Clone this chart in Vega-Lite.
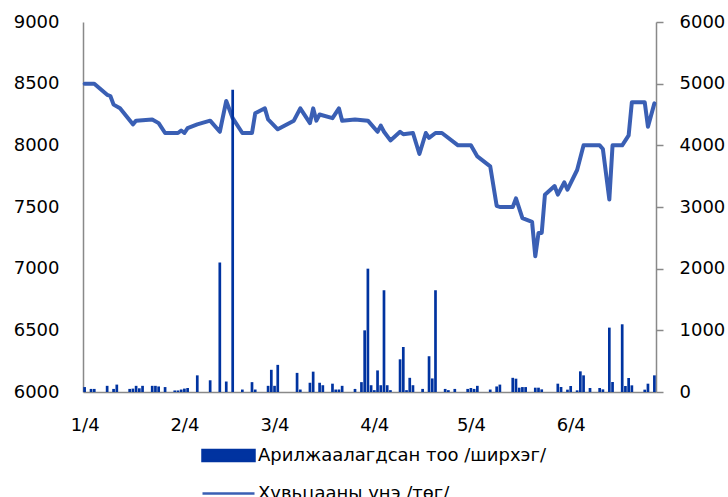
{
  "$schema": "https://vega.github.io/schema/vega-lite/v6.json",
  "width": 573,
  "height": 370,
  "autosize": "none",
  "padding": {"left": 83, "top": 22, "right": 72, "bottom": 105},
  "config": {
    "view": {"stroke": null},
    "font": "DejaVu Sans",
    "axis": {"grid": false, "domainColor": "#898989", "domainWidth": 1.5, "labelFont": "DejaVu Sans", "labelFontSize": 18, "labelColor": "#000000", "title": null}
  },
  "datasets": {
    "price": [
      {"d": "2021-01-04", "p": 8500}, {"d": "2021-01-07", "p": 8500}, {"d": "2021-01-11", "p": 8410}, {"d": "2021-01-12", "p": 8400},
      {"d": "2021-01-13", "p": 8330}, {"d": "2021-01-15", "p": 8300}, {"d": "2021-01-19", "p": 8170}, {"d": "2021-01-20", "p": 8200},
      {"d": "2021-01-25", "p": 8210}, {"d": "2021-01-27", "p": 8180}, {"d": "2021-01-29", "p": 8100}, {"d": "2021-02-02", "p": 8100},
      {"d": "2021-02-03", "p": 8120}, {"d": "2021-02-04", "p": 8100}, {"d": "2021-02-05", "p": 8140}, {"d": "2021-02-08", "p": 8170},
      {"d": "2021-02-12", "p": 8200}, {"d": "2021-02-15", "p": 8110}, {"d": "2021-02-17", "p": 8360}, {"d": "2021-02-19", "p": 8220},
      {"d": "2021-02-22", "p": 8100}, {"d": "2021-02-25", "p": 8100}, {"d": "2021-02-26", "p": 8260}, {"d": "2021-03-01", "p": 8300},
      {"d": "2021-03-02", "p": 8210}, {"d": "2021-03-05", "p": 8130}, {"d": "2021-03-10", "p": 8200}, {"d": "2021-03-12", "p": 8300},
      {"d": "2021-03-15", "p": 8180}, {"d": "2021-03-16", "p": 8300}, {"d": "2021-03-17", "p": 8200}, {"d": "2021-03-18", "p": 8250},
      {"d": "2021-03-22", "p": 8220}, {"d": "2021-03-24", "p": 8300}, {"d": "2021-03-25", "p": 8200}, {"d": "2021-03-29", "p": 8210},
      {"d": "2021-04-02", "p": 8200}, {"d": "2021-04-05", "p": 8110}, {"d": "2021-04-06", "p": 8160}, {"d": "2021-04-07", "p": 8110},
      {"d": "2021-04-09", "p": 8040}, {"d": "2021-04-12", "p": 8110}, {"d": "2021-04-13", "p": 8090}, {"d": "2021-04-16", "p": 8100},
      {"d": "2021-04-18", "p": 7930}, {"d": "2021-04-20", "p": 8100}, {"d": "2021-04-21", "p": 8060}, {"d": "2021-04-23", "p": 8100},
      {"d": "2021-04-25", "p": 8100}, {"d": "2021-04-30", "p": 8000}, {"d": "2021-05-04", "p": 8000}, {"d": "2021-05-06", "p": 7910},
      {"d": "2021-05-10", "p": 7830}, {"d": "2021-05-12", "p": 7510}, {"d": "2021-05-13", "p": 7500}, {"d": "2021-05-17", "p": 7500},
      {"d": "2021-05-18", "p": 7570}, {"d": "2021-05-20", "p": 7410}, {"d": "2021-05-23", "p": 7380}, {"d": "2021-05-24", "p": 7100},
      {"d": "2021-05-25", "p": 7290}, {"d": "2021-05-26", "p": 7290}, {"d": "2021-05-27", "p": 7600}, {"d": "2021-05-30", "p": 7670},
      {"d": "2021-05-31", "p": 7600}, {"d": "2021-06-02", "p": 7700}, {"d": "2021-06-03", "p": 7640}, {"d": "2021-06-06", "p": 7800},
      {"d": "2021-06-08", "p": 8000}, {"d": "2021-06-13", "p": 8000}, {"d": "2021-06-14", "p": 7970}, {"d": "2021-06-16", "p": 7560},
      {"d": "2021-06-17", "p": 8000}, {"d": "2021-06-20", "p": 8000}, {"d": "2021-06-22", "p": 8080}, {"d": "2021-06-23", "p": 8350},
      {"d": "2021-06-27", "p": 8350}, {"d": "2021-06-28", "p": 8150}, {"d": "2021-06-30", "p": 8340}
    ],
    "volume": [
      {"d": "2021-01-04", "v": 80}, {"d": "2021-01-06", "v": 50}, {"d": "2021-01-07", "v": 50}, {"d": "2021-01-11", "v": 100},
      {"d": "2021-01-13", "v": 50}, {"d": "2021-01-14", "v": 120}, {"d": "2021-01-18", "v": 50}, {"d": "2021-01-19", "v": 55},
      {"d": "2021-01-20", "v": 100}, {"d": "2021-01-21", "v": 60}, {"d": "2021-01-22", "v": 100}, {"d": "2021-01-25", "v": 100},
      {"d": "2021-01-26", "v": 100}, {"d": "2021-01-27", "v": 90}, {"d": "2021-01-29", "v": 80}, {"d": "2021-02-01", "v": 25},
      {"d": "2021-02-02", "v": 25}, {"d": "2021-02-03", "v": 40}, {"d": "2021-02-04", "v": 55}, {"d": "2021-02-05", "v": 65},
      {"d": "2021-02-08", "v": 270}, {"d": "2021-02-12", "v": 190}, {"d": "2021-02-15", "v": 2100}, {"d": "2021-02-17", "v": 170},
      {"d": "2021-02-19", "v": 4900}, {"d": "2021-02-22", "v": 40}, {"d": "2021-02-25", "v": 160}, {"d": "2021-02-26", "v": 40},
      {"d": "2021-03-02", "v": 100}, {"d": "2021-03-03", "v": 360}, {"d": "2021-03-04", "v": 100}, {"d": "2021-03-05", "v": 440},
      {"d": "2021-03-11", "v": 310}, {"d": "2021-03-12", "v": 40}, {"d": "2021-03-15", "v": 150}, {"d": "2021-03-16", "v": 330},
      {"d": "2021-03-18", "v": 150}, {"d": "2021-03-19", "v": 110}, {"d": "2021-03-22", "v": 135}, {"d": "2021-03-23", "v": 40},
      {"d": "2021-03-24", "v": 40}, {"d": "2021-03-25", "v": 100}, {"d": "2021-03-29", "v": 50}, {"d": "2021-03-31", "v": 160},
      {"d": "2021-04-01", "v": 1000}, {"d": "2021-04-02", "v": 2000}, {"d": "2021-04-03", "v": 110}, {"d": "2021-04-04", "v": 30},
      {"d": "2021-04-05", "v": 350}, {"d": "2021-04-06", "v": 110}, {"d": "2021-04-07", "v": 1650}, {"d": "2021-04-08", "v": 110},
      {"d": "2021-04-09", "v": 30}, {"d": "2021-04-12", "v": 530}, {"d": "2021-04-13", "v": 730}, {"d": "2021-04-14", "v": 30},
      {"d": "2021-04-15", "v": 230}, {"d": "2021-04-16", "v": 110}, {"d": "2021-04-19", "v": 50}, {"d": "2021-04-21", "v": 580},
      {"d": "2021-04-22", "v": 220}, {"d": "2021-04-23", "v": 1650}, {"d": "2021-04-26", "v": 50}, {"d": "2021-04-27", "v": 30},
      {"d": "2021-04-29", "v": 50}, {"d": "2021-05-03", "v": 50}, {"d": "2021-05-04", "v": 65}, {"d": "2021-05-05", "v": 50},
      {"d": "2021-05-06", "v": 100}, {"d": "2021-05-10", "v": 40}, {"d": "2021-05-12", "v": 90}, {"d": "2021-05-13", "v": 120},
      {"d": "2021-05-17", "v": 230}, {"d": "2021-05-18", "v": 216}, {"d": "2021-05-19", "v": 70}, {"d": "2021-05-20", "v": 80},
      {"d": "2021-05-21", "v": 80}, {"d": "2021-05-24", "v": 70}, {"d": "2021-05-25", "v": 70}, {"d": "2021-05-26", "v": 43},
      {"d": "2021-05-31", "v": 135}, {"d": "2021-06-01", "v": 81}, {"d": "2021-06-03", "v": 38}, {"d": "2021-06-04", "v": 97},
      {"d": "2021-06-06", "v": 27}, {"d": "2021-06-07", "v": 335}, {"d": "2021-06-08", "v": 270}, {"d": "2021-06-10", "v": 65},
      {"d": "2021-06-13", "v": 65}, {"d": "2021-06-14", "v": 43}, {"d": "2021-06-16", "v": 1044}, {"d": "2021-06-17", "v": 162},
      {"d": "2021-06-20", "v": 1098}, {"d": "2021-06-21", "v": 97}, {"d": "2021-06-22", "v": 227}, {"d": "2021-06-23", "v": 108},
      {"d": "2021-06-27", "v": 38}, {"d": "2021-06-28", "v": 135}, {"d": "2021-06-30", "v": 270}
    ]
  },
  "layer": [
    {
      "data": {"name": "price"},
      "mark": {"type": "line", "strokeWidth": 4, "strokeJoin": "round", "strokeCap": "round"},
      "encoding": {
        "x": {
          "field": "d", "type": "temporal",
          "scale": {"type": "utc", "nice": false, "padding": 0, "domain": [{"year": 2021, "month": 1, "date": 3, "hours": 12, "utc": true}, {"year": 2021, "month": 6, "date": 30, "hours": 12, "utc": true}]},
          "axis": {
            "orient": "bottom", "ticks": false, "labelPadding": 24, "format": "%-m/%-d",
            "values": [
              {"year": 2021, "month": 1, "date": 4, "utc": true}, {"year": 2021, "month": 2, "date": 4, "utc": true},
              {"year": 2021, "month": 3, "date": 4, "utc": true}, {"year": 2021, "month": 4, "date": 4, "utc": true},
              {"year": 2021, "month": 5, "date": 4, "utc": true}, {"year": 2021, "month": 6, "date": 4, "utc": true}
            ]
          }
        },
        "y": {
          "field": "p", "type": "quantitative",
          "scale": {"domain": [6000, 9000], "zero": false, "nice": false},
          "axis": {"orient": "left", "ticks": false, "labelPadding": 24, "format": "d", "values": [6000, 6500, 7000, 7500, 8000, 8500, 9000]}
        },
        "color": {
          "datum": "Хувьцааны үнэ /төг/",
          "scale": {"domain": ["Арилжаалагдсан тоо /ширхэг/", "Хувьцааны үнэ /төг/"], "range": ["#0033a0", "#3a5fb4"]},
          "legend": {
            "orient": "none", "legendX": 118, "legendY": 406, "direction": "vertical", "title": null,
            "labelFont": "DejaVu Sans", "labelFontSize": 18, "labelColor": "#000000", "labelOffset": 2, "labelLimit": 0,
            "symbolSize": 2704, "rowPadding": -18, "padding": 0,
            "encode": {
              "symbols": {
                "update": {
                  "shape": {"signal": "datum.index === 0 ? 'M-1,-0.21H1V0.21H-1Z' : 'M-1,0H1'"},
                  "fill": {"signal": "datum.index === 0 ? '#0033a0' : 'transparent'"},
                  "stroke": {"signal": "datum.index === 0 ? 'transparent' : '#3a5fb4'"},
                  "strokeWidth": {"value": 2.5},
                  "size": {"value": 2704},
                  "opacity": {"value": 1},
                  "fillOpacity": {"value": 1},
                  "strokeOpacity": {"value": 1}
                }
              }
            }
          }
        }
      }
    },
    {
      "data": {"name": "volume"},
      "mark": {"type": "bar", "size": 2.7},
      "encoding": {
        "x": {
          "field": "d", "type": "temporal",
          "scale": {"type": "utc", "nice": false, "padding": 0, "domain": [{"year": 2021, "month": 1, "date": 3, "hours": 12, "utc": true}, {"year": 2021, "month": 6, "date": 30, "hours": 12, "utc": true}]},
          "axis": {
            "orient": "bottom", "ticks": false, "labelPadding": 24, "format": "%-m/%-d",
            "values": [
              {"year": 2021, "month": 1, "date": 4, "utc": true}, {"year": 2021, "month": 2, "date": 4, "utc": true},
              {"year": 2021, "month": 3, "date": 4, "utc": true}, {"year": 2021, "month": 4, "date": 4, "utc": true},
              {"year": 2021, "month": 5, "date": 4, "utc": true}, {"year": 2021, "month": 6, "date": 4, "utc": true}
            ]
          }
        },
        "y": {
          "field": "v", "type": "quantitative",
          "scale": {"domain": [0, 6000], "nice": false},
          "axis": {"orient": "right", "ticks": true, "tickSize": 7, "tickColor": "#898989", "tickWidth": 1.5, "labelPadding": 16, "format": "d", "values": [0, 1000, 2000, 3000, 4000, 5000, 6000]}
        },
        "color": {"datum": "Арилжаалагдсан тоо /ширхэг/"}
      }
    }
  ],
  "resolve": {"scale": {"y": "independent"}}
}
